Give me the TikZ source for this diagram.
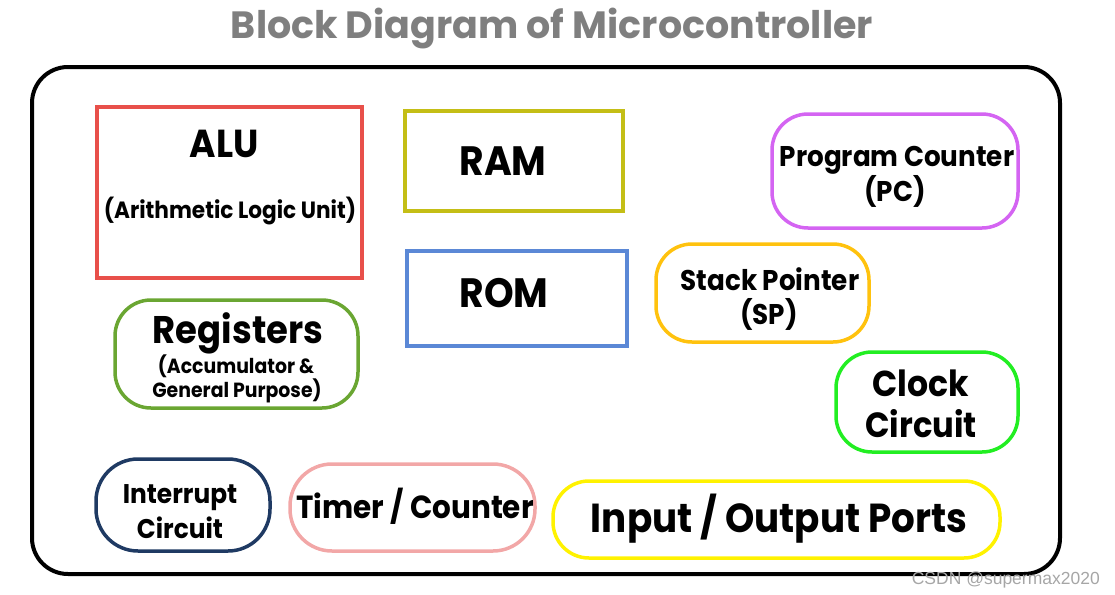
\documentclass[tikz,border=0pt]{standalone}
\usepackage{fontspec}
\setmainfont[FakeStretch=0.92]{Poppins}
\newfontfamily\headfont{Poppins}
\newfontfamily\markfont{Liberation Sans}

\definecolor{titleGray}{HTML}{7F7F7F}
\definecolor{aluRed}{HTML}{E8504A}
\definecolor{ramOlive}{HTML}{C4BE16}
\definecolor{romBlue}{HTML}{5B88D6}
\definecolor{pcViolet}{HTML}{D464F2}
\definecolor{spGold}{HTML}{FFC20E}
\definecolor{regGreen}{HTML}{6AA632}
\definecolor{clkGreen}{HTML}{22EE22}
\definecolor{intNavy}{HTML}{1F3A63}
\definecolor{tmrPink}{HTML}{F2A7A7}
\definecolor{ioYellow}{HTML}{FFF200}

\newcommand{\fsz}[1]{\bfseries\fontsize{#1}{#1}\selectfont}

\begin{document}
\begin{tikzpicture}[x=1pt, y=-1pt,
    blk/.style={line width=3.5pt, inner sep=0pt},
    rblk/.style={blk, rounded corners=36pt},
    lbl/.style={inner sep=0pt, anchor=base}]
    \useasboundingbox (0,0) rectangle (1115,594);

    % Title
    \node[lbl, text=titleGray, font=\headfont\fsz{38}] (title) at (552,38) {Block Diagram of Microcontroller};

    % Outer frame
    \node[draw, line width=4pt, rounded corners=36pt, minimum width=1028pt, minimum height=507pt] (chip) at (546,320.5) {};

    % ALU
    \node[blk, draw=aluRed, minimum width=265pt, minimum height=171pt] (alu) at (229.5,192.5) {};
    \node[lbl, font=\fsz{39}] (aluName) at (224,157) {ALU};
    \node[lbl, font=\fsz{23.5}] (aluFull) at (230,218) {(Arithmetic Logic Unit)};

    % RAM and ROM
    \node[blk, draw=ramOlive, minimum width=218pt, minimum height=100pt] (ram) at (514,161) {};
    \node[lbl, font=\fsz{41}] (ramName) at (503,175) {RAM};
    \node[blk, draw=romBlue, minimum width=220pt, minimum height=95pt] (rom) at (517,298.5) {};
    \node[lbl, font=\fsz{41}] (romName) at (504,307) {ROM};

    % Program Counter
    \node[rblk, draw=pcViolet, minimum width=246pt, minimum height=114pt] (pc) at (895,171) {};
    \node[lbl, font=\fsz{28.5}] (pcName) at (897,166) {Program Counter};
    \node[lbl, font=\fsz{28.5}] (pcShort) at (895,201) {(PC)};

    % Stack Pointer
    \node[rblk, draw=spGold, minimum width=213pt, minimum height=98pt] (sp) at (762.5,293) {};
    \node[lbl, font=\fsz{28.5}] (spName) at (770,290) {Stack Pointer};
    \node[lbl, font=\fsz{28.5}] (spShort) at (769,324) {(SP)};

    % Registers
    \node[rblk, draw=regGreen, minimum width=243pt, minimum height=108pt] (reg) at (236.5,354) {};
    \node[lbl, font=\fsz{38.5}] (regName) at (238,343) {Registers};
    \node[lbl, font=\fsz{20.5}] (regSub1) at (236,373) {(Accumulator \&};
    \node[lbl, font=\fsz{20.5}] (regSub2) at (237,397) {General Purpose)};

    % Clock Circuit
    \node[rblk, draw=clkGreen, minimum width=182pt, minimum height=100pt] (clk) at (927,402) {};
    \node[lbl, font=\fsz{36}] (clkName1) at (921,396) {Clock};
    \node[lbl, font=\fsz{35}] (clkName2) at (921,437) {Circuit};

    % Interrupt Circuit
    \node[rblk, rounded corners=42pt, draw=intNavy, minimum width=174pt, minimum height=92pt] (intr) at (183,505) {};
    \node[lbl, font=\fsz{27}] (intrName1) at (180,503) {Interrupt};
    \node[lbl, font=\fsz{27}] (intrName2) at (180,538) {Circuit};

    % Timer / Counter
    \node[rblk, rounded corners=42pt, draw=tmrPink, minimum width=245pt, minimum height=87pt] (tmr) at (412.5,507.5) {};
    \node[lbl, font=\fsz{32}] (tmrName) at (415,518) {Timer / Counter};

    % Input / Output Ports
    \node[rblk, draw=ioYellow, minimum width=447pt, minimum height=77pt] (io) at (776.5,519.5) {};
    \node[lbl, font=\fsz{40.5}] (ioName) at (779,532) {Input / Output Ports};

    % Watermark
    \node[inner sep=0pt, anchor=base east, text=gray!70, font=\markfont\fontsize{17.5}{17.5}\selectfont] (mark) at (1100,584) {CSDN @supermax2020};
\end{tikzpicture}
\end{document}
